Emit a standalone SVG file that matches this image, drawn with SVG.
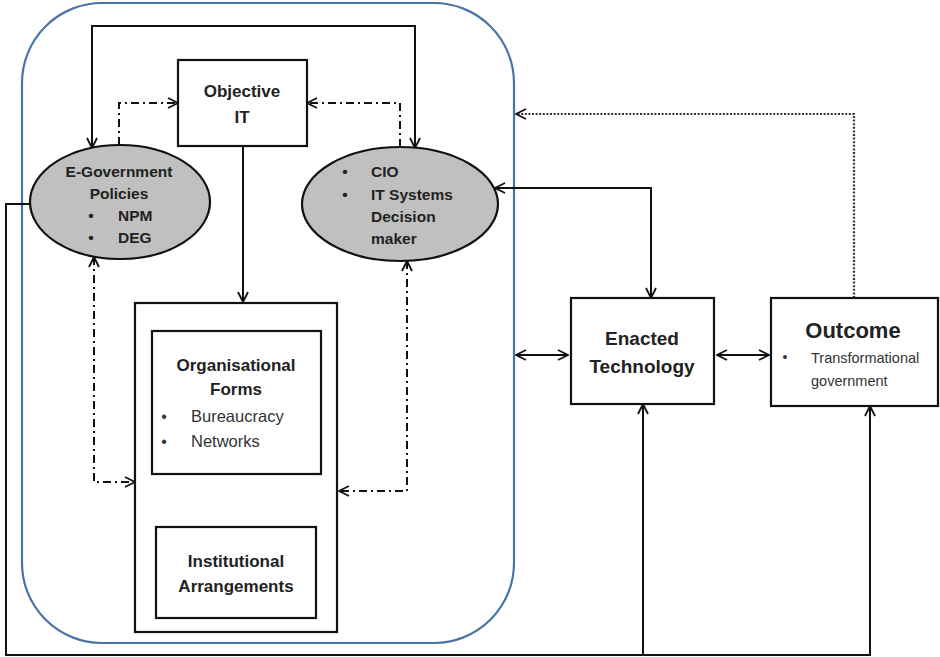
<svg xmlns="http://www.w3.org/2000/svg" width="940" height="657" viewBox="0 0 940 657">
<style>
.b{font-family:"Liberation Sans",Arial,sans-serif;font-weight:bold;fill:#222}
.r{font-family:"Liberation Sans",Arial,sans-serif;fill:#333}
.box{fill:#fff;stroke:#111;stroke-width:2.2}
.ell{fill:#c0c0c0;stroke:#111;stroke-width:2.2}
.ln{fill:none;stroke:#111;stroke-width:2}
.dd{fill:none;stroke:#111;stroke-width:2;stroke-dasharray:8 4 2 4}
.dot{fill:none;stroke:#333;stroke-width:2.2;stroke-dasharray:2 1.6}
</style>
<defs>
<marker id="ah" viewBox="0 0 12 12" refX="11" refY="6" markerWidth="12" markerHeight="12" markerUnits="userSpaceOnUse" orient="auto-start-reverse">
<path d="M1,1 L11,6 L1,11" fill="none" stroke="#111" stroke-width="1.8"/>
</marker>
</defs>
<rect id="boundary" x="22" y="3" width="492" height="640" rx="80" ry="80" fill="none" stroke="#4a74a8" stroke-width="2.2"/>
<g id="connectors">
<path class="ln" d="M92,148 V26 H415 V148" marker-start="url(#ah)" marker-end="url(#ah)"/>
<path class="dd" d="M119,145 V103 H178" marker-end="url(#ah)"/>
<path class="dd" d="M400,147 V103 H307" marker-end="url(#ah)"/>
<path class="ln" d="M243,146 V302" marker-end="url(#ah)"/>
<path class="dd" d="M94,257 V482 H135" marker-start="url(#ah)" marker-end="url(#ah)"/>
<path class="dd" d="M407,261 V491 H339" marker-start="url(#ah)" marker-end="url(#ah)"/>
<path class="ln" d="M236,474 V527" marker-start="url(#ah)" marker-end="url(#ah)"/>
<path class="ln" d="M30,204 H6 V655 H870 V406" marker-end="url(#ah)"/>
<path class="ln" d="M643,655 V404" marker-end="url(#ah)"/>
<path class="ln" d="M495,188 H651 V298" marker-start="url(#ah)" marker-end="url(#ah)"/>
<path class="ln" d="M516,355 H568" marker-start="url(#ah)" marker-end="url(#ah)"/>
<path class="ln" d="M717,355 H769" marker-start="url(#ah)" marker-end="url(#ah)"/>
<path class="dot" d="M854,298 V114 H516" marker-end="url(#ah)"/>
</g>
<g id="objective-it">
<rect class="box" x="178" y="60" width="129" height="86"/>
<text class="b" x="242" y="97" font-size="17" text-anchor="middle">Objective</text>
<text class="b" x="242" y="123" font-size="17" text-anchor="middle">IT</text>
</g>
<g id="egov-policies">
<ellipse class="ell" cx="120" cy="202" rx="90" ry="57"/>
<text class="b" x="119" y="177" font-size="15.5" text-anchor="middle">E-Government</text>
<text class="b" x="119" y="199" font-size="15.5" text-anchor="middle">Policies</text>
<text class="b" x="91" y="221" font-size="15.5" text-anchor="middle">•</text>
<text class="b" x="118" y="221" font-size="15.5">NPM</text>
<text class="b" x="91" y="243" font-size="15.5" text-anchor="middle">•</text>
<text class="b" x="118" y="243" font-size="15.5">DEG</text>
</g>
<g id="cio">
<ellipse class="ell" cx="400" cy="204" rx="98" ry="57"/>
<text class="b" x="345" y="177" font-size="15.5" text-anchor="middle">•</text>
<text class="b" x="371" y="177" font-size="15.5">CIO</text>
<text class="b" x="345" y="200" font-size="15.5" text-anchor="middle">•</text>
<text class="b" x="371" y="200" font-size="15.5">IT Systems</text>
<text class="b" x="371" y="222" font-size="15.5">Decision</text>
<text class="b" x="371" y="244" font-size="15.5">maker</text>
</g>
<g id="organisation">
<rect class="box" x="135" y="303" width="202" height="329"/>
</g>
<g id="organisational-forms">
<rect class="box" x="152" y="331" width="169" height="143"/>
<text class="b" x="236" y="371" font-size="17" text-anchor="middle">Organisational</text>
<text class="b" x="236" y="395" font-size="17" text-anchor="middle">Forms</text>
<text class="r" x="164" y="422" font-size="16" text-anchor="middle">•</text>
<text class="r" x="191" y="422" font-size="16.5">Bureaucracy</text>
<text class="r" x="164" y="447" font-size="16" text-anchor="middle">•</text>
<text class="r" x="191" y="447" font-size="16.5">Networks</text>
</g>
<g id="institutional-arrangements">
<rect class="box" x="156" y="527" width="160" height="91"/>
<text class="b" x="236" y="567" font-size="17" text-anchor="middle">Institutional</text>
<text class="b" x="236" y="592" font-size="17" text-anchor="middle">Arrangements</text>
</g>
<g id="enacted-technology">
<rect class="box" x="571" y="298" width="143" height="106"/>
<text class="b" x="642" y="345" font-size="19" text-anchor="middle">Enacted</text>
<text class="b" x="642" y="373" font-size="19" text-anchor="middle">Technology</text>
</g>
<g id="outcome">
<rect class="box" x="771" y="298" width="167" height="108"/>
<text class="b" x="853" y="338" font-size="22" text-anchor="middle">Outcome</text>
<text class="r" x="785" y="362" font-size="14" text-anchor="middle" fill="#555">•</text>
<text class="r" x="811" y="363" font-size="14.5" fill="#555">Transformational</text>
<text class="r" x="811" y="386" font-size="14.5" fill="#555">government</text>
</g>
</svg>
